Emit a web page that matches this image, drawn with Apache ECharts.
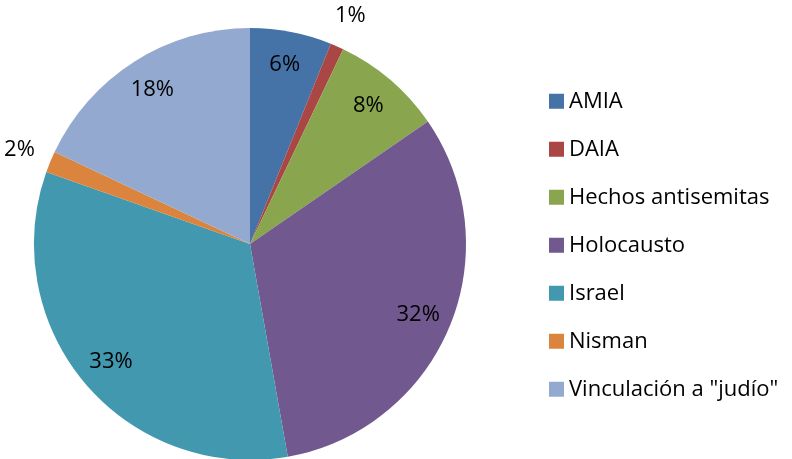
<!DOCTYPE html>
<html>
<head>
<meta charset="utf-8">
<script src="https://cdn.jsdelivr.net/npm/echarts@6/dist/echarts.min.js"></script>
<style>html,body{margin:0;padding:0;background:#fff}#main{width:792px;height:459px}</style>
</head>
<body>
<div id="main"></div>
<script>
var categories = ['AMIA', 'DAIA', 'Hechos antisemitas', 'Holocausto', 'Israel', 'Nisman', 'Vinculación a "judío"'];
var values = [6.1, 1.0, 8.3, 31.8, 33.2, 1.6, 18.0];
var colors = ['#4572A7', '#AA4643', '#89A54E', '#71588F', '#4198AF', '#DB843D', '#93A9CF'];
var outsideLabels = ['DAIA', 'Nisman'];

var font = 'Open Sans, Liberation Sans, sans-serif';
var cx = 250, cy = 244, r = 216;

function pct(p) { return Math.round(p.percent) + '%'; }

var baseData = categories.map(function (c, i) {
    return { name: c, value: values[i], itemStyle: { color: colors[i] } };
});
var innerData = categories.map(function (c, i) {
    return { name: c, value: values[i], label: { show: outsideLabels.indexOf(c) < 0 } };
});
var outerData = categories.map(function (c, i) {
    return { name: c, value: values[i], label: { show: outsideLabels.indexOf(c) >= 0 } };
});

var labelStyle = { position: 'inside', formatter: pct, color: '#000', fontSize: 22, fontFamily: font };
var ghost = { color: 'rgba(0,0,0,0)', borderWidth: 0 };

var myChart = echarts.init(document.getElementById('main'));
myChart.setOption({
    animation: false,
    legend: {
        orient: 'vertical',
        left: 544, top: 85,
        icon: 'rect',
        itemWidth: 15, itemHeight: 15,
        itemGap: 25.5,
        textStyle: { fontSize: 22, lineHeight: 22.5, color: '#000', fontFamily: font },
        data: categories
    },
    series: [
        {
            type: 'pie', center: [cx, cy], radius: [0, r],
            startAngle: 90, clockwise: true,
            label: { show: false }, labelLine: { show: false },
            itemStyle: { borderWidth: 0 },
            emphasis: { disabled: true },
            data: baseData
        },
        {
            type: 'pie', center: [cx, cy], radius: [r * 0.66, r],
            startAngle: 90, clockwise: true, silent: true,
            label: labelStyle, labelLine: { show: false },
            itemStyle: ghost,
            data: innerData
        },
        {
            type: 'pie', center: [cx, cy], radius: [r, r * 1.28],
            startAngle: 90, clockwise: true, silent: true,
            label: labelStyle, labelLine: { show: false },
            itemStyle: ghost,
            data: outerData
        }
    ]
});
</script>
</body>
</html>
